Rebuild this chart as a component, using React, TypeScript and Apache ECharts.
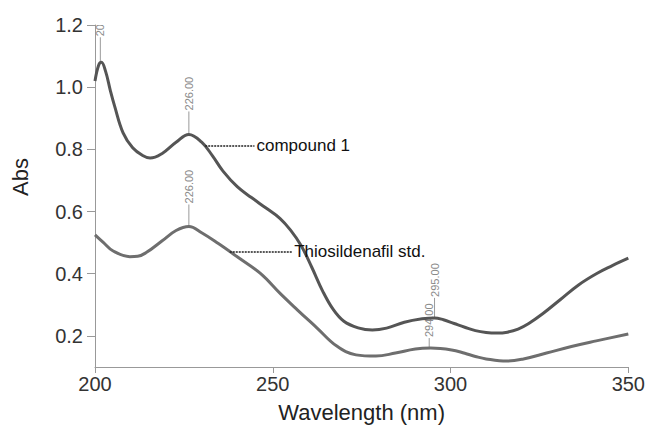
import React, { useEffect, useRef } from "react";
import * as echarts from "echarts";

// compound 1 (upper trace): [wavelength nm, absorbance]
const compoundWl = [200, 201, 201.8, 203, 204.3, 205.5, 207.9, 210.6, 213.4, 215.5, 218.9, 222.8, 226.4, 230, 233, 236, 240, 244, 248, 252, 255, 258, 261, 264, 267, 270, 274, 278, 282, 287, 292, 295.5, 298, 301, 304, 307, 310, 313, 316, 319, 322, 326, 331, 336, 341, 345.5, 350];
const compoundAbs = [1.02, 1.07, 1.08, 1.05, 0.99, 0.94, 0.853, 0.805, 0.78, 0.772, 0.787, 0.823, 0.848, 0.823, 0.78, 0.73, 0.68, 0.645, 0.612, 0.578, 0.54, 0.49, 0.42, 0.345, 0.285, 0.247, 0.226, 0.219, 0.225, 0.244, 0.255, 0.258, 0.252, 0.24, 0.228, 0.217, 0.211, 0.209, 0.212, 0.222, 0.24, 0.272, 0.318, 0.364, 0.4, 0.426, 0.45];

// Thiosildenafil std. (lower trace)
const stdWl = [200, 202.4, 205, 209.8, 212, 214.4, 218.9, 222.8, 226.4, 230, 234.7, 240.3, 246.6, 252.2, 256.9, 262.4, 267.9, 273.4, 279, 284.5, 290.1, 294.4, 300.3, 304, 307, 310, 315.8, 320.5, 327, 334, 341, 350];
const stdAbs = [0.525, 0.5, 0.474, 0.455, 0.456, 0.468, 0.506, 0.539, 0.552, 0.532, 0.497, 0.452, 0.4, 0.335, 0.284, 0.226, 0.168, 0.139, 0.135, 0.145, 0.158, 0.161, 0.155, 0.144, 0.134, 0.126, 0.119, 0.126, 0.145, 0.166, 0.184, 0.206];

// peak annotations: wavelength, absorbance at peak, label, stem length
const peakWl = [201.5, 226.4, 226.4, 294, 295.5];
const peakAbs = [1.08, 0.848, 0.552, 0.161, 0.258];
const peakLabels = ["201.00", "226.00", "226.00", "294.00", "295.00"];
const peakStem = [25, 23, 22, 10, 20];

// series labels with leader lines: [start wl, end wl, abs]
const seriesNames = ["compound 1", "Thiosildenafil std."];
const leaderStart = [231, 237.9];
const leaderEnd = [244.85, 255.45];
const leaderAbs = [0.812, 0.471];

const yTicks = [0.2, 0.4, 0.6, 0.8, 1.0, 1.2];

const FONT = "'Liberation Sans', Arial, Helvetica, sans-serif";

export default function App() {
  const ref = useRef<HTMLDivElement>(null);
  useEffect(() => {
    if (!ref.current) return;
    const chart = echarts.init(ref.current, null, { renderer: "svg" });
    const leader = (i: number) => ({
      symbol: "none",
      silent: true,
      animation: false,
      lineStyle: { type: [2, 1], color: "#222", width: 1.5 },
      label: {
        show: true,
        position: "end",
        distance: 2,
        formatter: seriesNames[i],
        color: "#111",
        fontSize: 17,
        fontFamily: FONT,
      },
      emphasis: { disabled: true },
      data: [[{ coord: [leaderStart[i], leaderAbs[i]] }, { coord: [leaderEnd[i], leaderAbs[i]] }]],
    });
    chart.setOption({
      animation: false,
      grid: { left: 95, right: 10.5, top: 25, bottom: 62, containLabel: false },
      xAxis: {
        type: "value",
        min: 200,
        max: 350,
        interval: 50,
        name: "Wavelength (nm)",
        nameLocation: "middle",
        nameGap: 34,
        nameTextStyle: { fontSize: 22, color: "#222", fontFamily: FONT },
        axisLine: { lineStyle: { color: "#999", width: 1 } },
        axisTick: { show: true, length: 6, lineStyle: { color: "#999" } },
        axisLabel: { fontSize: 20, color: "#333", margin: 7, fontFamily: FONT },
        splitLine: { show: false },
      },
      yAxis: {
        type: "value",
        min: 0.1,
        max: 1.2,
        axisLine: { show: true, lineStyle: { color: "#999", width: 1 } },
        axisTick: { show: true, length: 8, customValues: yTicks, lineStyle: { color: "#999" } },
        axisLabel: {
          fontSize: 20,
          color: "#333",
          margin: 12,
          fontFamily: FONT,
          customValues: yTicks,
          formatter: (v: number) => v.toFixed(1),
        },
        splitLine: { show: false },
      },
      graphic: [
        {
          type: "text",
          x: 20,
          y: 177,
          rotation: Math.PI / 2,
          style: {
            text: "Abs",
            fontSize: 22,
            fill: "#222",
            fontFamily: FONT,
            align: "center",
            verticalAlign: "middle",
          },
        },
      ],
      series: [
        {
          type: "custom",
          clip: true,
          silent: true,
          z: 1,
          data: peakWl.map((w, i) => [w, peakAbs[i], peakStem[i], i]),
          renderItem: (params: any, api: any) => {
            const p = api.coord([api.value(0), api.value(1)]);
            const len = api.value(2);
            const idx = api.value(3);
            return {
              type: "group",
              children: [
                {
                  type: "line",
                  shape: { x1: p[0], y1: p[1], x2: p[0], y2: p[1] - len },
                  style: { stroke: "#9a9a9a", lineWidth: 1 },
                },
                {
                  type: "text",
                  x: p[0],
                  y: p[1] - len - 1,
                  rotation: Math.PI / 2,
                  style: {
                    text: peakLabels[idx],
                    fontSize: 11,
                    fill: "#8a8a8a",
                    fontFamily: FONT,
                    align: "left",
                    verticalAlign: "middle",
                  },
                },
              ],
            };
          },
        },
        {
          type: "line",
          name: seriesNames[0],
          data: compoundWl.map((w, i) => [w, compoundAbs[i]]),
          showSymbol: false,
          smooth: 0.4,
          z: 3,
          lineStyle: { color: "#555555", width: 3 },
          itemStyle: { color: "#555555" },
          markLine: leader(0),
        },
        {
          type: "line",
          name: seriesNames[1],
          data: stdWl.map((w, i) => [w, stdAbs[i]]),
          showSymbol: false,
          smooth: 0.4,
          z: 3,
          lineStyle: { color: "#6e6e6e", width: 3 },
          itemStyle: { color: "#6e6e6e" },
          markLine: leader(1),
        },
      ],
    });
    return () => chart.dispose();
  }, []);
  return (
    <div
      ref={ref}
      style={{ position: "absolute", left: 0, top: 0, width: 648, height: 429 }}
    />
  );
}
